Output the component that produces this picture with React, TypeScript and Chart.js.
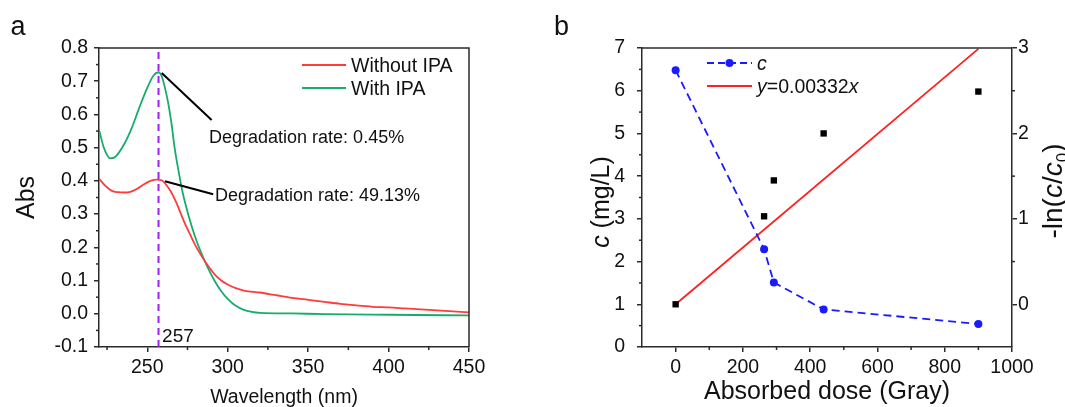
import React, { useEffect, useRef } from 'react';
import { Chart, registerables } from 'chart.js';

Chart.register(...registerables);

const FONT = "'Liberation Sans', Arial, Helvetica, sans-serif";
const AXIS = '#2a2a2a';
const TEXT = '#111111';

// ---------- Panel a: UV-vis spectra ----------
const wavelengthWithout = [220, 224, 228, 232, 236, 240, 244, 248, 252, 256, 259, 262, 265, 268, 271, 274, 277, 280, 284, 288, 292, 296, 300, 305, 310, 320, 330, 340, 350, 360, 370, 380, 390, 400, 410, 420, 430, 440, 450];
const absWithout = [0.407, 0.385, 0.37, 0.366, 0.365, 0.368, 0.377, 0.39, 0.4, 0.404, 0.402, 0.387, 0.365, 0.335, 0.3, 0.265, 0.235, 0.205, 0.172, 0.143, 0.118, 0.1, 0.088, 0.077, 0.07, 0.064, 0.056, 0.048, 0.042, 0.036, 0.03, 0.025, 0.021, 0.019, 0.016, 0.013, 0.01, 0.007, 0.004];
const wavelengthWith = [220, 223, 227, 230, 235, 240, 245, 250, 254, 257, 259, 261, 263, 265, 267, 270, 272, 276, 280, 284, 288, 292, 296, 300, 305, 310, 315, 320, 340, 360, 400, 450];
const absWith = [0.555, 0.5, 0.468, 0.472, 0.505, 0.555, 0.62, 0.68, 0.718, 0.727, 0.715, 0.68, 0.635, 0.575, 0.5, 0.415, 0.365, 0.29, 0.228, 0.178, 0.135, 0.098, 0.068, 0.045, 0.024, 0.012, 0.006, 0.003, 0.001, -0.001, -0.003, -0.005];
const peakWavelength = 257;
const peakLabel = '257';
const legendA = ['Without IPA', 'With IPA'];
const rateLabels = ['Degradation rate: 0.45%', 'Degradation rate: 49.13%'];
const leaderWith = [{ x: 259, y: 0.725 }, { x: 290, y: 0.583 }];
const leaderWithout = [{ x: 261, y: 0.399 }, { x: 291, y: 0.36 }];
const rateAnchors = [{ x: 288.4, y: 0.533 }, { x: 292.1, y: 0.357 }];
const aXTicks = [250, 300, 350, 400, 450];
const aYTicks = [-0.1, 0, 0.1, 0.2, 0.3, 0.4, 0.5, 0.6, 0.7, 0.8];
const aXMinor = [225, 275, 325, 375, 425];
const aYMinor = [-0.05, 0.05, 0.15, 0.25, 0.35, 0.45, 0.55, 0.65, 0.75];

// ---------- Panel b: dose dependence ----------
const doses = [0, 263, 292, 440, 900];
const concentration = [6.48, 2.29, 1.51, 0.88, 0.54];
const negLnRatio = [0, 1.03, 1.45, 2.0, 2.49];
const fitDose = [0, 900];
const fitValue = [0, 2.99];
const bXTicks = [0, 200, 400, 600, 800, 1000];
const bYTicks = [0, 1, 2, 3, 4, 5, 6, 7];
const bY2Ticks = [0, 1, 2, 3];
const bXMinor = [100, 300, 500, 700, 900];
const bYMinor = [0.5, 1.5, 2.5, 3.5, 4.5, 5.5, 6.5];
const bY2Minor = [0.5, 1.5, 2.5];

const toXY = (xs: number[], ys: number[]) => xs.map((x, i) => ({ x, y: ys[i] }));

type Run = { t: string; italic?: boolean; sub?: boolean };

function drawRuns(ctx: CanvasRenderingContext2D, runs: Run[], x: number, y: number, size: number, align: 'left' | 'center', rotate = false) {
  ctx.save();
  ctx.translate(x, y);
  if (rotate) ctx.rotate(-Math.PI / 2);
  ctx.fillStyle = TEXT;
  ctx.textBaseline = 'alphabetic';
  ctx.textAlign = 'left';
  const fontOf = (r: Run) => `${r.italic ? 'italic ' : ''}${r.sub ? Math.round(size * 0.62) : size}px ${FONT}`;
  let total = 0;
  const widths = runs.map((r) => {
    ctx.font = fontOf(r);
    const w = ctx.measureText(r.t).width;
    total += w;
    return w;
  });
  let cx = align === 'center' ? -total / 2 : 0;
  const base = size * 0.35;
  runs.forEach((r, i) => {
    ctx.font = fontOf(r);
    ctx.fillText(r.t, cx, r.sub ? base + size * 0.22 : base);
    cx += widths[i];
  });
  ctx.restore();
}

function minorTicks(chart: any, axes: { id: string; values: number[]; side: 'bottom' | 'left' | 'right' }[]) {
  const ctx = chart.ctx as CanvasRenderingContext2D;
  ctx.save();
  ctx.strokeStyle = AXIS;
  ctx.lineWidth = 1.5;
  axes.forEach(({ id, values, side }) => {
    const s = chart.scales[id];
    values.forEach((v) => {
      const p = s.getPixelForValue(v);
      ctx.beginPath();
      if (side === 'bottom') {
        ctx.moveTo(p, chart.chartArea.bottom);
        ctx.lineTo(p, chart.chartArea.bottom + 3);
      } else if (side === 'left') {
        ctx.moveTo(chart.chartArea.left, p);
        ctx.lineTo(chart.chartArea.left - 3, p);
      } else {
        ctx.moveTo(chart.chartArea.right, p);
        ctx.lineTo(chart.chartArea.right + 3, p);
      }
      ctx.stroke();
    });
  });
  ctx.restore();
}

const tickFont = { family: FONT, size: 19.5 };

function axisBase(extra: any) {
  return {
    type: 'linear',
    grid: { drawOnChartArea: false, tickLength: 5, color: AXIS, lineWidth: 1.5 },
    border: { color: AXIS, width: 1.5 },
    ...extra,
  };
}

function PanelA() {
  const ref = useRef<HTMLCanvasElement>(null);
  useEffect(() => {
    const decor = {
      id: 'decorA',
      afterDraw(chart: any) {
        const ctx = chart.ctx as CanvasRenderingContext2D;
        const { left, right, top } = chart.chartArea;
        const xs = chart.scales.x;
        const ys = chart.scales.y;
        ctx.save();
        ctx.strokeStyle = AXIS;
        ctx.lineWidth = 1.5;
        ctx.beginPath();
        ctx.moveTo(left, top);
        ctx.lineTo(right, top);
        ctx.lineTo(right, chart.chartArea.bottom);
        ctx.stroke();
        ctx.restore();
        minorTicks(chart, [
          { id: 'x', values: aXMinor, side: 'bottom' },
          { id: 'y', values: aYMinor, side: 'left' },
        ]);
        const colors = ['#ff3b3b', '#16ad6c'];
        legendA.forEach((lab, i) => {
          const yy = 65 + i * 23;
          ctx.save();
          ctx.strokeStyle = colors[i];
          ctx.lineWidth = 1.8;
          ctx.beginPath();
          ctx.moveTo(302, yy);
          ctx.lineTo(346, yy);
          ctx.stroke();
          ctx.restore();
          drawRuns(ctx, [{ t: lab }], 351, yy, 19.5, 'left');
        });
        rateLabels.forEach((lab, i) => {
          const a = rateAnchors[i];
          drawRuns(ctx, [{ t: lab }], xs.getPixelForValue(a.x), ys.getPixelForValue(a.y), 18, 'left');
        });
        drawRuns(ctx, [{ t: peakLabel }], xs.getPixelForValue(259.2), ys.getPixelForValue(-0.0645), 19, 'left');
        ctx.save();
        ctx.font = `27px ${FONT}`;
        ctx.fillStyle = TEXT;
        ctx.textBaseline = 'alphabetic';
        ctx.fillText('a', 10.5, 35);
        ctx.restore();
      },
    };
    const chart = new Chart(ref.current as HTMLCanvasElement, {
      type: 'line',
      data: {
        datasets: [
          { label: 'leader1', data: leaderWith, borderColor: '#000', borderWidth: 2, pointRadius: 0 },
          { label: 'leader2', data: leaderWithout, borderColor: '#000', borderWidth: 2, pointRadius: 0 },
          { label: legendA[0], data: toXY(wavelengthWithout, absWithout), borderColor: '#ff3b3b', borderWidth: 1.8, pointRadius: 0, cubicInterpolationMode: 'monotone' },
          { label: legendA[1], data: toXY(wavelengthWith, absWith), borderColor: '#16ad6c', borderWidth: 1.8, pointRadius: 0, cubicInterpolationMode: 'monotone' },
          { label: 'peak', data: [{ x: peakWavelength, y: -0.1 }, { x: peakWavelength, y: 0.8 }], borderColor: '#a020f0', borderWidth: 2, borderDash: [7, 5], pointRadius: 0 },
        ],
      } as any,
      options: {
        responsive: false,
        animation: false,
        parsing: false,
        layout: { padding: { left: 0, top: 48, right: 64, bottom: 0 } },
        plugins: { legend: { display: false }, tooltip: { enabled: false } },
        scales: {
          x: axisBase({
            min: 220,
            max: 450,
            afterFit: (s: any) => { s.height = 60; },
            afterBuildTicks: (s: any) => { s.ticks = aXTicks.map((v) => ({ value: v })); },
            ticks: { font: tickFont, color: TEXT, padding: 4, autoSkip: false, maxRotation: 0, callback: (v: any) => String(v) },
            title: { display: true, text: 'Wavelength (nm)', color: TEXT, font: { family: FONT, size: 19.5, lineHeight: 1 }, padding: { top: 0, bottom: 0 } },
          }),
          y: axisBase({
            min: -0.1,
            max: 0.8,
            afterFit: (s: any) => { s.width = 99; },
            afterBuildTicks: (s: any) => { s.ticks = aYTicks.map((v) => ({ value: v })); },
            ticks: { font: tickFont, color: TEXT, padding: 6, autoSkip: false, callback: (v: any) => Number(v).toFixed(1) },
            title: { display: true, text: 'Abs', color: TEXT, font: { family: FONT, size: 25, lineHeight: 1.2 }, padding: { top: 12.5, bottom: 0 } },
          }),
        },
      } as any,
      plugins: [decor],
    });
    return () => chart.destroy();
  }, []);
  return <canvas ref={ref} width={533} height={407} style={{ display: 'block', width: 533, height: 407 }} />;
}

function PanelB() {
  const ref = useRef<HTMLCanvasElement>(null);
  useEffect(() => {
    const decor = {
      id: 'decorB',
      afterDraw(chart: any) {
        const ctx = chart.ctx as CanvasRenderingContext2D;
        const { left, right, top } = chart.chartArea;
        ctx.save();
        ctx.strokeStyle = AXIS;
        ctx.lineWidth = 1.5;
        ctx.beginPath();
        ctx.moveTo(left, top);
        ctx.lineTo(right, top);
        ctx.stroke();
        ctx.restore();
        minorTicks(chart, [
          { id: 'x', values: bXMinor, side: 'bottom' },
          { id: 'y', values: bYMinor, side: 'left' },
          { id: 'y2', values: bY2Minor, side: 'right' },
        ]);
        drawRuns(ctx, [{ t: 'c', italic: true }, { t: ' (mg/L)' }], 67, 202, 25, 'center', true);
        drawRuns(ctx, [{ t: '-ln(' }, { t: 'c', italic: true }, { t: '/' }, { t: 'c', italic: true }, { t: '0', sub: true }, { t: ')' }], 519, 191, 28, 'center', true);
        ctx.save();
        ctx.strokeStyle = '#1a1aff';
        ctx.lineWidth = 1.8;
        ctx.setLineDash([7, 4]);
        ctx.beginPath();
        ctx.moveTo(174, 63);
        ctx.lineTo(219, 63);
        ctx.stroke();
        ctx.setLineDash([]);
        ctx.fillStyle = '#1a1aff';
        ctx.beginPath();
        ctx.arc(196.5, 63, 4, 0, Math.PI * 2);
        ctx.fill();
        ctx.strokeStyle = '#ff2020';
        ctx.beginPath();
        ctx.moveTo(174, 86);
        ctx.lineTo(219, 86);
        ctx.stroke();
        ctx.restore();
        drawRuns(ctx, [{ t: 'c', italic: true }], 224, 63, 19.5, 'left');
        drawRuns(ctx, [{ t: 'y', italic: true }, { t: '=0.00332' }, { t: 'x', italic: true }], 224, 86, 19.5, 'left');
        ctx.save();
        ctx.font = `27px ${FONT}`;
        ctx.fillStyle = TEXT;
        ctx.textBaseline = 'alphabetic';
        ctx.fillText('b', 21, 35);
        ctx.restore();
      },
    };
    const chart = new Chart(ref.current as HTMLCanvasElement, {
      type: 'line',
      data: {
        datasets: [
          { label: '-ln(c/c0)', data: toXY(doses, negLnRatio), yAxisID: 'y2', showLine: false, pointStyle: 'rect', pointRadius: 4.5, pointBackgroundColor: '#000', pointBorderColor: '#000', pointBorderWidth: 0, order: 0 },
          { label: 'c', data: toXY(doses, concentration), yAxisID: 'y', borderColor: '#1a1aff', borderWidth: 1.8, borderDash: [8, 5], pointRadius: 4, pointBackgroundColor: '#1a1aff', pointBorderColor: '#1a1aff', pointBorderWidth: 0, order: 1 },
          { label: 'y=0.00332x', data: toXY(fitDose, fitValue), yAxisID: 'y2', borderColor: '#ff2020', borderWidth: 1.8, pointRadius: 0, order: 2 },
        ],
      } as any,
      options: {
        responsive: false,
        animation: false,
        parsing: false,
        layout: { padding: { left: 0, top: 48, right: 0, bottom: 0 } },
        plugins: { legend: { display: false }, tooltip: { enabled: false } },
        scales: {
          x: axisBase({
            min: -100,
            max: 1000,
            afterFit: (s: any) => { s.height = 60; },
            afterBuildTicks: (s: any) => { s.ticks = bXTicks.map((v) => ({ value: v })); },
            ticks: { font: tickFont, color: TEXT, padding: 4, autoSkip: false, maxRotation: 0, callback: (v: any) => String(v) },
            title: { display: true, text: 'Absorbed dose (Gray)', color: TEXT, font: { family: FONT, size: 25, lineHeight: 1 }, padding: { top: 0, bottom: 2 } },
          }),
          y: axisBase({
            position: 'left',
            min: 0,
            max: 7,
            afterFit: (s: any) => { s.width = 109; },
            afterBuildTicks: (s: any) => { s.ticks = bYTicks.map((v) => ({ value: v })); },
            ticks: { font: tickFont, color: TEXT, padding: 12, autoSkip: false, callback: (v: any) => String(v) },
          }),
          y2: axisBase({
            position: 'right',
            min: -0.5,
            max: 3,
            afterFit: (s: any) => { s.width = 53; },
            afterBuildTicks: (s: any) => { s.ticks = bY2Ticks.map((v) => ({ value: v })); },
            ticks: { font: tickFont, color: TEXT, padding: 1, autoSkip: false, callback: (v: any) => String(v) },
          }),
        },
      } as any,
      plugins: [decor],
    });
    return () => chart.destroy();
  }, []);
  return <canvas ref={ref} width={532} height={407} style={{ display: 'block', width: 532, height: 407 }} />;
}

export default function App() {
  return (
    <div style={{ position: 'fixed', left: 0, top: 0, width: 1065, height: 407, background: '#fff', overflow: 'hidden' }}>
      <div style={{ position: 'absolute', left: 0, top: 0 }}>
        <PanelA />
      </div>
      <div style={{ position: 'absolute', left: 533, top: 0 }}>
        <PanelB />
      </div>
    </div>
  );
}
